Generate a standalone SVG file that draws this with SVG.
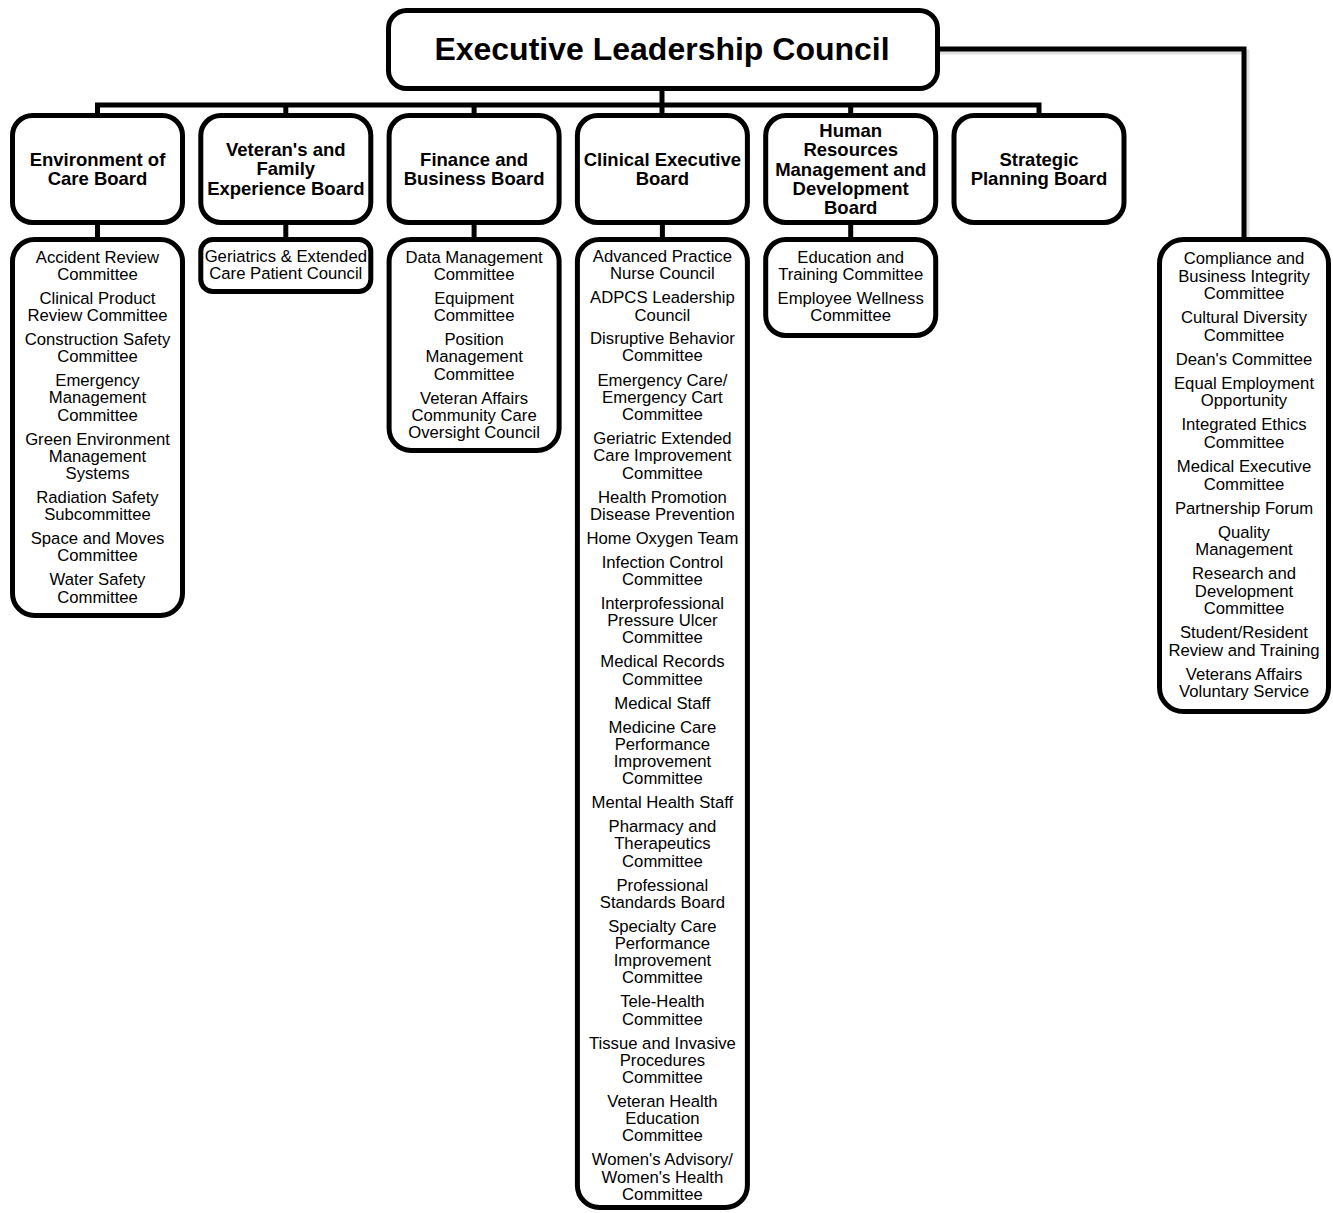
<svg xmlns="http://www.w3.org/2000/svg" width="1333" height="1213" viewBox="0 0 1333 1213">
<style>
.box{fill:#fff;stroke:#000;stroke-width:5}
.con{fill:none;stroke:#000;stroke-width:5}
.t{font-family:"Liberation Sans",Arial,sans-serif;font-size:16.7px;text-anchor:middle;fill:#000}
.b{font-family:"Liberation Sans",Arial,sans-serif;font-size:18.5px;font-weight:bold;text-anchor:middle;fill:#000}
.h{font-family:"Liberation Sans",Arial,sans-serif;font-size:32px;font-weight:bold;text-anchor:middle;fill:#000}
</style>
<rect width="1333" height="1213" fill="#fff"/>
<g id="connectors">
<path class="con" d="M97.5 115 V105 H1039 V115"/>
<path class="con" d="M662 91 V115"/>
<path class="con" d="M285.8 105 V115 M474.1 105 V115 M850.7 105 V115"/>
<path class="con" d="M97.5 223 V239 M285.8 223 V239 M474.1 223 V239 M662.4 223 V239 M850.7 223 V239"/>
<path d="M940 52 H1247 V237" fill="none" stroke="#000" stroke-opacity="0.12" stroke-width="5"/>
<path class="con" d="M940 49 H1244 V239"/>
</g>
<g id="executive">
<rect class="box" x="388.5" y="10.5" width="549" height="78" rx="18"/>
<text class="h" x="662" y="60">Executive Leadership Council</text>
</g>
<g id="board-environment">
<rect class="box" x="12.5" y="115.5" width="170" height="107" rx="20"/>
<text class="b" x="97.5" y="166">Environment of</text>
<text class="b" x="97.5" y="185">Care Board</text>
</g>
<g id="board-veterans">
<rect class="box" x="200.8" y="115.5" width="170" height="107" rx="20"/>
<text class="b" x="285.8" y="156">Veteran's and</text>
<text class="b" x="285.8" y="175">Family</text>
<text class="b" x="285.8" y="195">Experience Board</text>
</g>
<g id="board-finance">
<rect class="box" x="389.1" y="115.5" width="170" height="107" rx="20"/>
<text class="b" x="474.1" y="166">Finance and</text>
<text class="b" x="474.1" y="185">Business Board</text>
</g>
<g id="board-clinical">
<rect class="box" x="577.4" y="115.5" width="170" height="107" rx="20"/>
<text class="b" x="662.4" y="166">Clinical Executive</text>
<text class="b" x="662.4" y="185">Board</text>
</g>
<g id="board-hr">
<rect class="box" x="765.7" y="115.5" width="170" height="107" rx="20"/>
<text class="b" x="850.7" y="137">Human</text>
<text class="b" x="850.7" y="156">Resources</text>
<text class="b" x="850.7" y="176">Management and</text>
<text class="b" x="850.7" y="195">Development</text>
<text class="b" x="850.7" y="214">Board</text>
</g>
<g id="board-strategic">
<rect class="box" x="954" y="115.5" width="170" height="107" rx="20"/>
<text class="b" x="1039" y="166">Strategic</text>
<text class="b" x="1039" y="185">Planning Board</text>
</g>
<g id="list-environment">
<rect class="box" x="12.5" y="239.5" width="170" height="376" rx="22"/>
<text class="t" x="97.5" y="263">Accident Review</text>
<text class="t" x="97.5" y="280">Committee</text>
<text class="t" x="97.5" y="304">Clinical Product</text>
<text class="t" x="97.5" y="321">Review Committee</text>
<text class="t" x="97.5" y="345">Construction Safety</text>
<text class="t" x="97.5" y="362">Committee</text>
<text class="t" x="97.5" y="386">Emergency</text>
<text class="t" x="97.5" y="403">Management</text>
<text class="t" x="97.5" y="421">Committee</text>
<text class="t" x="97.5" y="445">Green Environment</text>
<text class="t" x="97.5" y="462">Management</text>
<text class="t" x="97.5" y="479">Systems</text>
<text class="t" x="97.5" y="503">Radiation Safety</text>
<text class="t" x="97.5" y="520">Subcommittee</text>
<text class="t" x="97.5" y="544">Space and Moves</text>
<text class="t" x="97.5" y="561">Committee</text>
<text class="t" x="97.5" y="585">Water Safety</text>
<text class="t" x="97.5" y="603">Committee</text>
</g>
<g id="list-veterans">
<rect class="box" x="200.8" y="239.5" width="170" height="52" rx="12"/>
<text class="t" x="285.8" y="262">Geriatrics &amp; Extended</text>
<text class="t" x="285.8" y="279">Care Patient Council</text>
</g>
<g id="list-finance">
<rect class="box" x="389.1" y="239.5" width="170" height="211" rx="22"/>
<text class="t" x="474.1" y="263">Data Management</text>
<text class="t" x="474.1" y="280">Committee</text>
<text class="t" x="474.1" y="304">Equipment</text>
<text class="t" x="474.1" y="321">Committee</text>
<text class="t" x="474.1" y="345">Position</text>
<text class="t" x="474.1" y="362">Management</text>
<text class="t" x="474.1" y="380">Committee</text>
<text class="t" x="474.1" y="404">Veteran Affairs</text>
<text class="t" x="474.1" y="421">Community Care</text>
<text class="t" x="474.1" y="438">Oversight Council</text>
</g>
<g id="list-clinical">
<rect class="box" x="577.4" y="239.5" width="170" height="968" rx="22"/>
<text class="t" x="662.4" y="262">Advanced Practice</text>
<text class="t" x="662.4" y="279">Nurse Council</text>
<text class="t" x="662.4" y="303">ADPCS Leadership</text>
<text class="t" x="662.4" y="321">Council</text>
<text class="t" x="662.4" y="344">Disruptive Behavior</text>
<text class="t" x="662.4" y="361">Committee</text>
<text class="t" x="662.4" y="386">Emergency Care/</text>
<text class="t" x="662.4" y="403">Emergency Cart</text>
<text class="t" x="662.4" y="420">Committee</text>
<text class="t" x="662.4" y="444">Geriatric Extended</text>
<text class="t" x="662.4" y="461">Care Improvement</text>
<text class="t" x="662.4" y="479">Committee</text>
<text class="t" x="662.4" y="503">Health Promotion</text>
<text class="t" x="662.4" y="520">Disease Prevention</text>
<text class="t" x="662.4" y="544">Home Oxygen Team</text>
<text class="t" x="662.4" y="568">Infection Control</text>
<text class="t" x="662.4" y="585">Committee</text>
<text class="t" x="662.4" y="609">Interprofessional</text>
<text class="t" x="662.4" y="626">Pressure Ulcer</text>
<text class="t" x="662.4" y="643">Committee</text>
<text class="t" x="662.4" y="667">Medical Records</text>
<text class="t" x="662.4" y="685">Committee</text>
<text class="t" x="662.4" y="709">Medical Staff</text>
<text class="t" x="662.4" y="733">Medicine Care</text>
<text class="t" x="662.4" y="750">Performance</text>
<text class="t" x="662.4" y="767">Improvement</text>
<text class="t" x="662.4" y="784">Committee</text>
<text class="t" x="662.4" y="808">Mental Health Staff</text>
<text class="t" x="662.4" y="832">Pharmacy and</text>
<text class="t" x="662.4" y="849">Therapeutics</text>
<text class="t" x="662.4" y="867">Committee</text>
<text class="t" x="662.4" y="891">Professional</text>
<text class="t" x="662.4" y="908">Standards Board</text>
<text class="t" x="662.4" y="932">Specialty Care</text>
<text class="t" x="662.4" y="949">Performance</text>
<text class="t" x="662.4" y="966">Improvement</text>
<text class="t" x="662.4" y="983">Committee</text>
<text class="t" x="662.4" y="1007">Tele-Health</text>
<text class="t" x="662.4" y="1025">Committee</text>
<text class="t" x="662.4" y="1049">Tissue and Invasive</text>
<text class="t" x="662.4" y="1066">Procedures</text>
<text class="t" x="662.4" y="1083">Committee</text>
<text class="t" x="662.4" y="1107">Veteran Health</text>
<text class="t" x="662.4" y="1124">Education</text>
<text class="t" x="662.4" y="1141">Committee</text>
<text class="t" x="662.4" y="1165">Women's Advisory/</text>
<text class="t" x="662.4" y="1183">Women's Health</text>
<text class="t" x="662.4" y="1200">Committee</text>
</g>
<g id="list-hr">
<rect class="box" x="765.7" y="239.5" width="170" height="96" rx="20"/>
<text class="t" x="850.7" y="263">Education and</text>
<text class="t" x="850.7" y="280">Training Committee</text>
<text class="t" x="850.7" y="304">Employee Wellness</text>
<text class="t" x="850.7" y="321">Committee</text>
</g>
<g id="list-council">
<rect class="box" x="1159.5" y="239.5" width="169" height="472" rx="24"/>
<text class="t" x="1244" y="264">Compliance and</text>
<text class="t" x="1244" y="282">Business Integrity</text>
<text class="t" x="1244" y="299">Committee</text>
<text class="t" x="1244" y="323">Cultural Diversity</text>
<text class="t" x="1244" y="341">Committee</text>
<text class="t" x="1244" y="365">Dean's Committee</text>
<text class="t" x="1244" y="389">Equal Employment</text>
<text class="t" x="1244" y="406">Opportunity</text>
<text class="t" x="1244" y="430">Integrated Ethics</text>
<text class="t" x="1244" y="448">Committee</text>
<text class="t" x="1244" y="472">Medical Executive</text>
<text class="t" x="1244" y="490">Committee</text>
<text class="t" x="1244" y="514">Partnership Forum</text>
<text class="t" x="1244" y="538">Quality</text>
<text class="t" x="1244" y="555">Management</text>
<text class="t" x="1244" y="579">Research and</text>
<text class="t" x="1244" y="597">Development</text>
<text class="t" x="1244" y="614">Committee</text>
<text class="t" x="1244" y="638">Student/Resident</text>
<text class="t" x="1244" y="656">Review and Training</text>
<text class="t" x="1244" y="680">Veterans Affairs</text>
<text class="t" x="1244" y="697">Voluntary Service</text>
</g>
</svg>
